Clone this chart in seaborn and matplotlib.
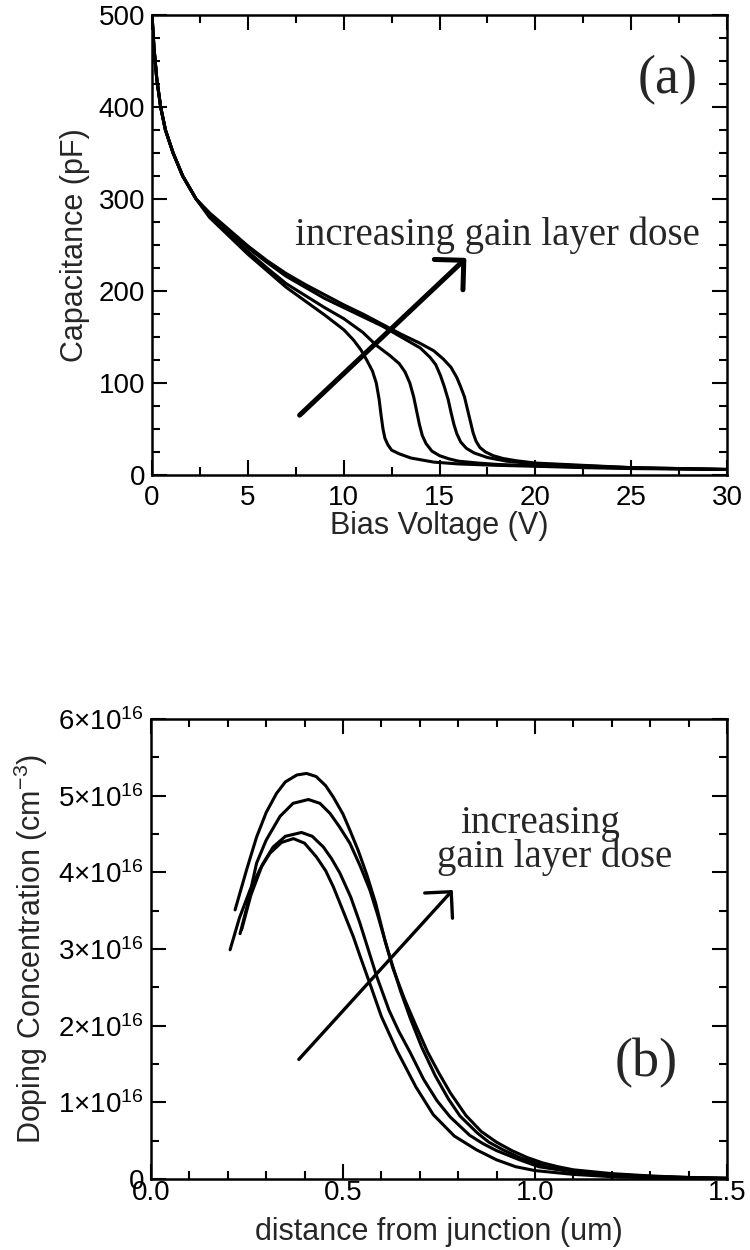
import matplotlib
matplotlib.use("Agg")
import matplotlib.pyplot as plt
from matplotlib.ticker import MultipleLocator, FixedLocator, FixedFormatter, FormatStrFormatter
import pandas as pd
import seaborn as sns

# ---------------- (a) C-V curves ----------------
dose_labels = ["dose 1", "dose 2", "dose 3", "dose 4"]

bias_common = [0.0, 0.1, 0.25, 0.45, 0.7, 1.1, 1.6, 2.3]
cap_common = [500, 465, 430, 400, 375, 350, 325, 300]

bias_1 = [3.0, 4.0, 5.0, 6.0, 7.0, 8.0, 9.0, 10.0, 10.5, 10.9, 11.2, 11.5, 11.7,
          11.85, 11.95, 12.05, 12.15, 12.3, 12.5, 12.9, 13.5, 14.7, 16.0, 18.0,
          20.0, 22.5, 25.0, 27.5, 30.0]
cap_1 = [280, 260, 240, 222, 204, 189, 174, 158, 147, 136, 125, 113, 100,
         82, 65, 50, 40, 33, 27, 23, 18.5, 14, 12, 10.5,
         9.5, 8, 7, 6.5, 6]

bias_2 = [3.0, 4.0, 5.0, 6.0, 7.0, 8.0, 9.0, 10.0, 11.0, 11.7, 12.4, 12.9, 13.2,
          13.45, 13.65, 13.8, 13.95, 14.1, 14.3, 14.6, 15.0, 15.5, 16.0, 17.0,
          18.0, 20.0, 25.0, 30.0]
cap_2 = [282, 262, 243, 225, 208, 195, 182, 170, 155, 141, 130, 121, 112,
         100, 85, 70, 55, 43, 34, 26, 21, 17.5, 15, 13,
         11.5, 10, 7.5, 6]

bias_3 = [3.0, 4.0, 5.0, 6.0, 7.0, 8.0, 9.0, 10.0, 11.0, 12.0, 13.0, 14.0, 14.5,
          14.8, 15.05, 15.25, 15.45, 15.6, 15.75, 15.9, 16.1, 16.4, 16.8, 17.5,
          18.5, 20.0, 25.0, 30.0]
cap_3 = [284, 265, 247, 231, 216, 204, 192, 182, 172, 162, 150, 138, 128,
         120, 108, 96, 82, 68, 55, 45, 36, 29, 24, 19,
         15, 12, 8, 6]

bias_4 = [3.0, 4.0, 5.0, 6.0, 7.0, 8.0, 9.0, 10.0, 11.0, 12.0, 13.0, 14.0, 14.7,
          15.2, 15.6, 15.9, 16.1, 16.3, 16.45, 16.6, 16.75, 16.9, 17.1, 17.4,
          17.8, 18.3, 19.0, 20.0, 25.0, 30.0]
cap_4 = [285, 267, 249, 233, 219, 207, 196, 185, 175, 164, 153, 143, 135,
         126, 117, 106, 96, 85, 72, 59, 46, 37, 30, 25,
         21, 18, 15.5, 13, 8, 6]

# ---------------- (b) doping profiles (units of 1e16 cm^-3) ----------------
depth_1 = [0.219, 0.25, 0.275, 0.30, 0.327, 0.35, 0.38, 0.405, 0.43, 0.455, 0.475,
           0.50, 0.518, 0.54, 0.562, 0.585, 0.61, 0.63, 0.66, 0.69, 0.72, 0.75,
           0.78, 0.82, 0.86, 0.90, 0.94, 0.98, 1.02, 1.06, 1.1, 1.2, 1.3, 1.4, 1.5]
dop_1 = [3.51, 4.05, 4.46, 4.78, 5.03, 5.18, 5.27, 5.29, 5.25, 5.13, 4.98,
         4.76, 4.55, 4.28, 3.97, 3.6, 3.1, 2.75, 2.35, 2.0, 1.66, 1.38,
         1.12, 0.83, 0.62, 0.48, 0.37, 0.28, 0.21, 0.16, 0.12, 0.07, 0.04, 0.02, 0.01]

depth_2 = [0.232, 0.25, 0.275, 0.30, 0.336, 0.37, 0.41, 0.44, 0.466, 0.49, 0.518,
           0.545, 0.57, 0.59, 0.61, 0.625, 0.65, 0.675, 0.705, 0.74, 0.775, 0.805,
           0.85, 0.88, 0.917, 0.96, 1.0, 1.03, 1.1, 1.2, 1.3, 1.4, 1.5]
dop_2 = [3.2, 3.55, 4.12, 4.42, 4.73, 4.9, 4.95, 4.9, 4.77, 4.6, 4.38,
         4.08, 3.77, 3.45, 3.1, 2.85, 2.45, 2.1, 1.72, 1.35, 1.04, 0.82,
         0.6, 0.48, 0.38, 0.28, 0.21, 0.16, 0.1, 0.06, 0.035, 0.02, 0.01]

depth_3 = [0.236, 0.26, 0.29, 0.318, 0.35, 0.392, 0.42, 0.449, 0.47, 0.492, 0.52,
           0.544, 0.566, 0.588, 0.62, 0.645, 0.674, 0.71, 0.745, 0.779, 0.83,
           0.865, 0.90, 0.96, 1.01, 1.1, 1.2, 1.3, 1.4, 1.5]
dop_3 = [3.25, 3.7, 4.1, 4.33, 4.47, 4.52, 4.47, 4.33, 4.18, 3.99, 3.68,
         3.34, 2.99, 2.64, 2.2, 1.93, 1.66, 1.3, 1.02, 0.81, 0.57,
         0.46, 0.37, 0.25, 0.16, 0.09, 0.05, 0.03, 0.015, 0.008]

depth_4 = [0.206, 0.23, 0.258, 0.285, 0.31, 0.34, 0.371, 0.40, 0.431, 0.455, 0.475,
           0.50, 0.527, 0.545, 0.57, 0.60, 0.64, 0.69, 0.735, 0.79, 0.848, 0.90,
           0.95, 1.0, 1.1, 1.2, 1.3, 1.4, 1.5]
dop_4 = [2.99, 3.4, 3.77, 4.05, 4.25, 4.39, 4.44, 4.38, 4.2, 4.02, 3.81,
         3.5, 3.16, 2.9, 2.55, 2.12, 1.68, 1.2, 0.84, 0.56, 0.38, 0.25,
         0.16, 0.11, 0.06, 0.03, 0.015, 0.008, 0.005]

dop_ticks = [0, 1, 2, 3, 4, 5, 6]
dop_tick_labels = ["0", "1×10$^{16}$", "2×10$^{16}$", "3×10$^{16}$",
                   "4×10$^{16}$", "5×10$^{16}$", "6×10$^{16}$"]

# arrow end points (tail, head) in data units
arrow_a = ((7.7, 65), (16.4, 236))
arrow_b = ((0.385, 1.56), (0.786, 3.77))

# ---------------- tidy tables ----------------
cv_rows = []
for lab, vb, vc in zip(dose_labels, [bias_1, bias_2, bias_3, bias_4],
                       [cap_1, cap_2, cap_3, cap_4]):
    for b, c in zip(bias_common + vb, cap_common + vc):
        cv_rows.append({"dose": lab, "bias": b, "cap": c})
cv = pd.DataFrame(cv_rows)

dp_rows = []
for lab, xs, ys in zip(dose_labels, [depth_1, depth_2, depth_3, depth_4],
                       [dop_1, dop_2, dop_3, dop_4]):
    for x, y in zip(xs, ys):
        dp_rows.append({"dose": lab, "depth": x, "dop": y})
dp = pd.DataFrame(dp_rows)

# ---------------- style ----------------
sns.set_theme(style="ticks")
plt.rcParams["font.family"] = ["Liberation Sans", "DejaVu Sans"]
plt.rcParams["mathtext.fontset"] = "custom"
plt.rcParams["mathtext.rm"] = "Liberation Sans"
plt.rcParams["mathtext.it"] = "Liberation Sans:italic"
plt.rcParams["mathtext.default"] = "regular"
plt.rcParams["axes.linewidth"] = 1.8
plt.rcParams["axes.edgecolor"] = "black"
plt.rcParams["lines.solid_joinstyle"] = "round"

serif = ["Liberation Serif", "DejaVu Serif"]

fig = plt.figure(figsize=(7.5, 12.5), dpi=100)
fig.patch.set_facecolor("white")
ax1 = fig.add_axes([0.2027, 0.62, 0.7667, 0.368])
ax2 = fig.add_axes([0.2013, 0.0568, 0.768, 0.368])

pal = ["black"] * 4
sns.lineplot(data=cv, x="bias", y="cap", hue="dose", palette=pal, estimator=None,
             sort=False, legend=False, lw=2.2, ax=ax1)
sns.lineplot(data=dp, x="depth", y="dop", hue="dose", palette=pal, estimator=None,
             sort=False, legend=False, lw=2.2, ax=ax2)

for ax in (ax1, ax2):
    ax.set_facecolor("white")
    ax.tick_params(which="both", direction="in", top=True, right=True,
                   color="black", width=1.5, labelcolor="black")
    ax.tick_params(which="major", length=11)
    ax.tick_params(which="minor", length=6)
    for s in ax.spines.values():
        s.set_color("black")
        s.set_linewidth(1.8)

# panel (a)
ax1.set_xlim(0, 30)
ax1.set_ylim(0, 500)
ax1.xaxis.set_major_locator(MultipleLocator(5))
ax1.xaxis.set_minor_locator(MultipleLocator(2.5))
ax1.yaxis.set_major_locator(MultipleLocator(100))
ax1.yaxis.set_minor_locator(MultipleLocator(25))
ax1.tick_params(axis="x", which="major", labelsize=20, pad=7)
ax1.tick_params(axis="y", which="major", labelsize=20, pad=5)
ax1.set_xlabel("Bias Voltage (V)", fontsize=22)
ax1.set_ylabel("Capacitance (pF)", fontsize=22)
ax1.xaxis.set_label_coords(0.5, -0.078)
ax1.yaxis.set_label_coords(-0.108, 0.5)
ax1.text(0.249, 0.5, "increasing gain layer dose", transform=ax1.transAxes,
         family=serif, fontsize=28, ha="left", va="baseline")
ax1.text(0.897, 0.859, "(a)", transform=ax1.transAxes, family=serif,
         fontsize=39, ha="center", va="center")
ax1.annotate("", xy=arrow_a[1], xytext=arrow_a[0],
             arrowprops=dict(arrowstyle="->,head_length=0.75,head_width=0.75",
                             lw=3.6, color="black", mutation_scale=20,
                             shrinkA=0, shrinkB=0))

# panel (b)
ax2.set_xlim(0, 1.5)
ax2.set_ylim(0, 6)
ax2.xaxis.set_major_locator(MultipleLocator(0.5))
ax2.xaxis.set_minor_locator(MultipleLocator(0.1))
ax2.xaxis.set_major_formatter(FormatStrFormatter("%.1f"))
ax2.yaxis.set_major_locator(FixedLocator(dop_ticks))
ax2.yaxis.set_major_formatter(FixedFormatter(dop_tick_labels))
ax2.yaxis.set_minor_locator(MultipleLocator(0.5))
ax2.tick_params(axis="x", which="major", labelsize=20, pad=1)
ax2.tick_params(axis="y", which="major", labelsize=20, pad=5)
ax2.set_xlabel("distance from junction (um)", fontsize=22)
ax2.set_ylabel("Doping Concentration (cm$^{-3}$)", fontsize=22)
ax2.xaxis.set_label_coords(0.5, -0.082)
ax2.yaxis.set_label_coords(-0.175, 0.5)
ax2.text(0.536, 0.752, "increasing", transform=ax2.transAxes, family=serif,
         fontsize=28, ha="left", va="baseline")
ax2.text(0.4965, 0.678, "gain layer dose", transform=ax2.transAxes, family=serif,
         fontsize=28, ha="left", va="baseline")
ax2.text(0.859, 0.252, "(b)", transform=ax2.transAxes, family=serif,
         fontsize=39, ha="center", va="center")
ax2.annotate("", xy=arrow_b[1], xytext=arrow_b[0],
             arrowprops=dict(arrowstyle="->,head_length=0.75,head_width=0.75",
                             lw=2.4, color="black", mutation_scale=18,
                             shrinkA=0, shrinkB=0))

fig.savefig("out.png", dpi=100, facecolor="white")
